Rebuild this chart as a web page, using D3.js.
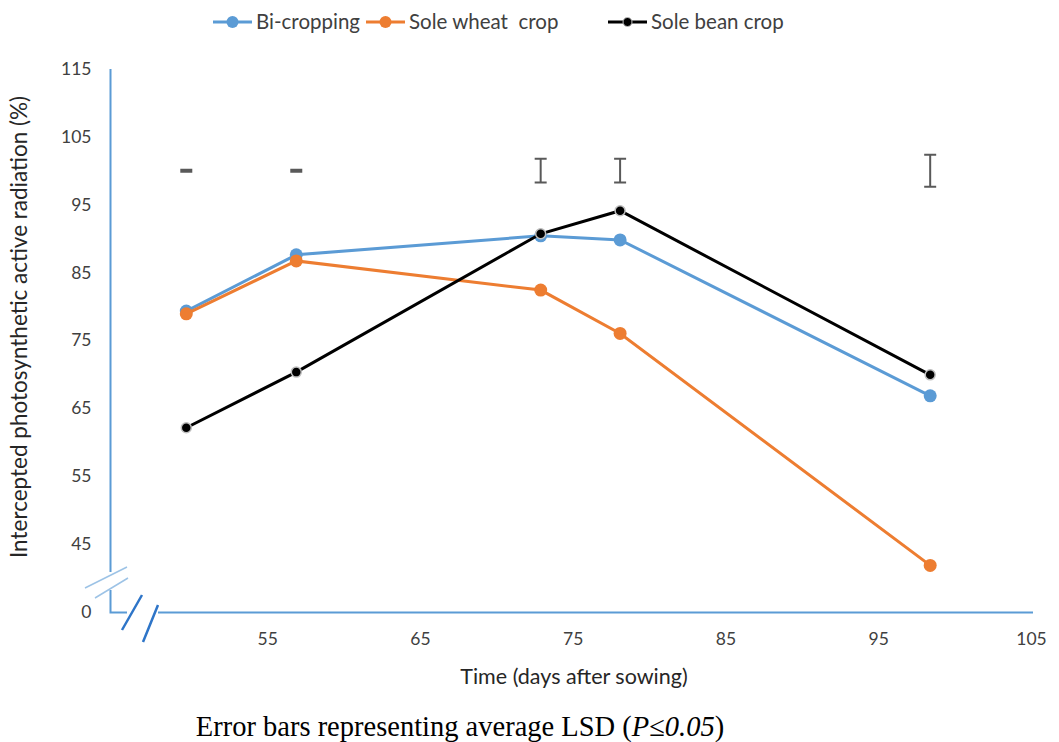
<!DOCTYPE html>
<html><head><meta charset="utf-8">
<script src="https://cdn.jsdelivr.net/npm/d3@7/dist/d3.min.js"></script>
<style>body{margin:0;background:#fff}svg{display:block}</style>
</head><body><svg id="c" width="1059" height="742"></svg>
<script>
const days = [49.7, 56.9, 72.9, 78.1, 98.4];
const biCropping = [79.3, 87.6, 90.4, 89.8, 66.8];
const soleWheat = [78.9, 86.7, 82.4, 76.0, 41.8];
const soleBean = [62.1, 70.3, 90.7, 94.1, 69.9];
const errCenter = [100, 100, 100, 100, 100];
const errHalf = [0.15, 0.15, 1.75, 1.75, 2.35];
const yTicks = [35, 45, 55, 65, 75, 85, 95, 105, 115];
const yTickLabels = ["0", "45", "55", "65", "75", "85", "95", "105", "115"];
const xTicks = [55, 65, 75, 85, 95, 105];
const seriesNames = ["Bi-cropping", "Sole wheat  crop", "Sole bean crop"];

const svg = d3.select("#c");
const font = "Lato, 'Open Sans', sans-serif";
const x = d3.scaleLinear().domain([45, 105]).range([114.5, 1031]);
const y = d3.scaleLinear().domain([35, 115]).range([611.5, 69]);
const axisColor = "#5B9BD5";

// axis lines
const yx = 110.5;
svg.append("path").attr("d", `M${yx},${y(115)}V572`).attr("stroke", axisColor).attr("stroke-width", 2).attr("fill", "none");
svg.append("path").attr("d", `M${yx},590V${y(35)+1}H127`).attr("stroke", axisColor).attr("stroke-width", 2).attr("fill", "none");
svg.append("path").attr("d", `M158,${y(35)+1}H${x(105)+2}`).attr("stroke", axisColor).attr("stroke-width", 2).attr("fill", "none");
// y-axis break marks
svg.append("path").attr("d", "M85,588L127,567M95,598L128,578").attr("stroke", "#9DC3E6").attr("stroke-width", 1.5);
// x-axis break marks
svg.append("path").attr("d", "M122,630L142,595M143,642L158,605").attr("stroke", "#2E75C8").attr("stroke-width", 2.5);

// y axis labels
const yAxis = d3.axisLeft(y).tickValues(yTicks).tickSize(0).tickPadding(19)
  .tickFormat(d => yTickLabels[yTicks.indexOf(d)]);
const gy = svg.append("g").attr("transform", `translate(${yx},0)`).call(yAxis);
gy.select(".domain").remove();
gy.selectAll("text").attr("font-family", font).attr("font-size", 17.5).attr("fill", "#404040");

const xAxis = d3.axisBottom(x).tickValues(xTicks).tickSize(0).tickPadding(21);
const gx = svg.append("g").attr("transform", `translate(0,${y(35)})`).call(xAxis);
gx.select(".domain").remove();
gx.selectAll("text").attr("font-family", font).attr("font-size", 17.5).attr("fill", "#404040");

// axis titles
svg.append("text").attr("transform", "translate(27,327) rotate(-90)").attr("text-anchor", "middle")
  .attr("font-family", font).attr("font-size", 22.5).attr("fill", "#262626")
  .text("Intercepted photosynthetic active radiation (%)");
svg.append("text").attr("x", 574).attr("y", 684).attr("text-anchor", "middle")
  .attr("font-family", font).attr("font-size", 21.5).attr("fill", "#262626")
  .text("Time (days after sowing)");

// caption
const cap = svg.append("text").attr("x", 460).attr("y", 736).attr("text-anchor", "middle")
  .attr("font-family", "'Liberation Serif', 'DejaVu Serif', serif").attr("font-size", 28.5).attr("fill", "#000");
cap.append("tspan").text("Error bars representing average LSD (");
cap.append("tspan").attr("font-style", "italic").text("P\u22640.05");
cap.append("tspan").text(")");

// error bars
const eb = svg.append("g").attr("stroke", "#595959").attr("stroke-width", 2).attr("fill", "none");
days.forEach((d, i) => {
  const cx = x(d), t = y(errCenter[i] + errHalf[i]), b = y(errCenter[i] - errHalf[i]);
  eb.append("path").attr("d", `M${cx - 6},${t}H${cx + 6}M${cx},${t}V${b}M${cx - 6},${b}H${cx + 6}`);
});

// series
const series = [
  {name: seriesNames[0], vals: biCropping, color: "#5B9BD5", r: 6.5, stroke: "none"},
  {name: seriesNames[1], vals: soleWheat, color: "#ED7D31", r: 6.5, stroke: "none"},
  {name: seriesNames[2], vals: soleBean, color: "#000000", r: 5, stroke: "#BFBFBF"}
];
const line = d3.line().x((d, i) => x(days[i])).y(d => y(d));
series.forEach(s => {
  const g = svg.append("g");
  g.append("path").attr("d", line(s.vals)).attr("fill", "none").attr("stroke", s.color).attr("stroke-width", 3);
  g.selectAll("circle").data(s.vals).join("circle")
    .attr("cx", (d, i) => x(days[i])).attr("cy", d => y(d)).attr("r", s.r)
    .attr("fill", s.color).attr("stroke", s.stroke).attr("stroke-width", 1.5);
});

// legend
const legX = [213, 366, 608];
series.forEach((s, i) => {
  const g = svg.append("g").attr("transform", `translate(${legX[i]},22)`);
  g.append("line").attr("x1", 0).attr("x2", 39).attr("stroke", s.color).attr("stroke-width", 3);
  g.append("circle").attr("cx", 19.5).attr("r", i === 2 ? 4.5 : 6).attr("fill", s.color)
    .attr("stroke", s.stroke).attr("stroke-width", 1);
  g.append("text").attr("x", 43).attr("y", 7).attr("font-family", font).attr("font-size", 20.5)
    .attr("fill", "#404040").style("white-space", "pre").text(s.name);
});
</script></body></html>
